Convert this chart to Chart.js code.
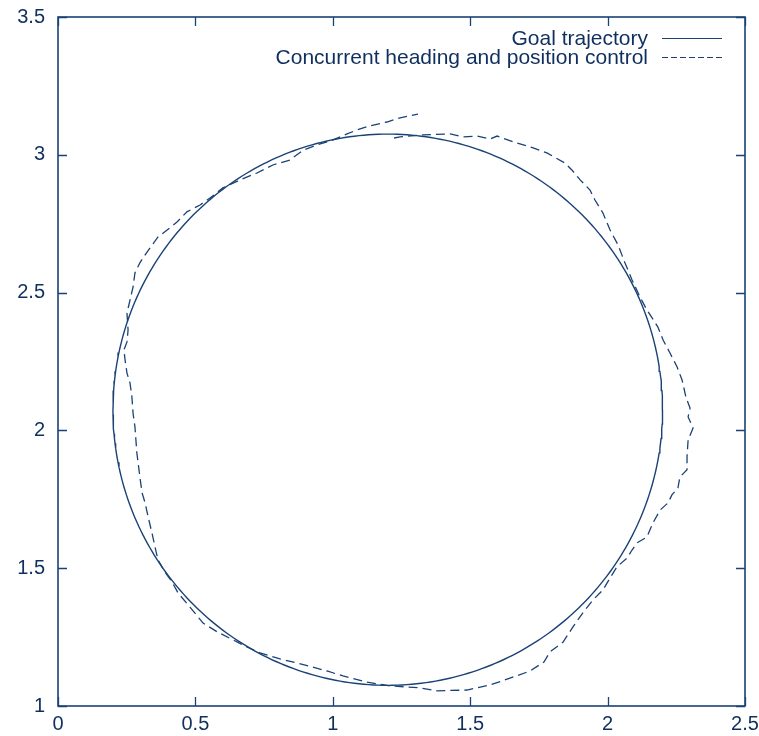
<!DOCTYPE html>
<html>
<head>
<meta charset="utf-8">
<script src="https://cdn.jsdelivr.net/npm/chart.js@4.4.1/dist/chart.umd.min.js"></script>
<style>
  html, body { margin: 0; padding: 0; background: #ffffff; }
  #wrap { width: 759px; height: 736px; }
</style>
</head>
<body>
<div id="wrap"><canvas id="chart" width="759" height="736"></canvas></div>
<script>
// Axis ticks
const xTicks = [0, 0.5, 1, 1.5, 2, 2.5];
const yTicks = [1, 1.5, 2, 2.5, 3, 3.5];

// Goal trajectory: circle of radius 1 m
const goalCenter = [1.2, 2.075];
const goalRadius = 1.0;

// Measured path (x, y) with concurrent heading and position control
const pathX = [1.223, 1.245, 1.328, 1.427, 1.474, 1.525, 1.572, 1.598, 1.656, 1.729,
  1.779, 1.845, 1.870, 1.900, 1.936, 1.954, 1.983, 2.009, 2.038, 2.063,
  2.089, 2.118, 2.143, 2.162, 2.183, 2.202, 2.227, 2.253, 2.271, 2.285,
  2.300, 2.293, 2.311, 2.293, 2.289, 2.289, 2.263, 2.256, 2.234, 2.220,
  2.191, 2.165, 2.143, 2.107, 2.089, 2.071, 2.034, 2.009, 1.983, 1.947,
  1.910, 1.874, 1.838, 1.790, 1.769, 1.718, 1.659, 1.572, 1.488, 1.379,
  1.317, 1.270, 1.208, 1.124, 1.037, 0.979, 0.870, 0.808, 0.735, 0.688,
  0.637, 0.579, 0.528, 0.480, 0.437, 0.415, 0.389, 0.364, 0.353, 0.342,
  0.328, 0.317, 0.306, 0.298, 0.287, 0.280, 0.273, 0.269, 0.262, 0.251,
  0.244, 0.240, 0.251, 0.255, 0.251, 0.262, 0.273, 0.280, 0.298, 0.317,
  0.335, 0.364, 0.397, 0.433, 0.469, 0.517, 0.553, 0.600, 0.662, 0.724,
  0.782, 0.844, 0.892, 0.943, 1.001, 1.052, 1.088, 1.135, 1.197, 1.245,
  1.310];
const pathY = [3.061, 3.065, 3.072, 3.076, 3.065, 3.068, 3.057, 3.068, 3.047, 3.025,
  3.007, 2.970, 2.945, 2.909, 2.872, 2.836, 2.789, 2.727, 2.673, 2.608,
  2.546, 2.484, 2.437, 2.408, 2.375, 2.328, 2.281, 2.230, 2.183, 2.121,
  2.081, 2.049, 2.009, 1.965, 1.904, 1.857, 1.831, 1.791, 1.766, 1.737,
  1.711, 1.664, 1.613, 1.592, 1.566, 1.537, 1.505, 1.465, 1.421, 1.385,
  1.338, 1.287, 1.232, 1.196, 1.160, 1.127, 1.106, 1.076, 1.058, 1.055,
  1.066, 1.069, 1.073, 1.087, 1.109, 1.127, 1.156, 1.171, 1.193, 1.214,
  1.240, 1.269, 1.301, 1.359, 1.410, 1.450, 1.486, 1.530, 1.577, 1.628,
  1.686, 1.737, 1.773, 1.831, 1.918, 2.013, 2.063, 2.121, 2.172, 2.208,
  2.256, 2.292, 2.321, 2.364, 2.426, 2.473, 2.520, 2.571, 2.608, 2.637,
  2.662, 2.702, 2.727, 2.756, 2.793, 2.818, 2.843, 2.880, 2.909, 2.934,
  2.963, 2.981, 3.017, 3.036, 3.054, 3.076, 3.090, 3.105, 3.119, 3.134,
  3.148];

const seriesNames = ['Goal trajectory', 'Concurrent heading and position control'];

const INK = '#1a4275';
const TEXT = '#0f2f5e';
const FONT = '"Liberation Sans", Arial, Helvetica, sans-serif';

const goalPoints = [];
for (let deg = 0; deg <= 360; deg += 1) {
  const a = deg * Math.PI / 180;
  goalPoints.push({ x: goalCenter[0] + goalRadius * Math.cos(a), y: goalCenter[1] + goalRadius * Math.sin(a) });
}
const pathPoints = pathX.map((x, i) => ({ x, y: pathY[i] }));

// Box around the plot area with inward ticks on all four sides
const frameTicks = {
  id: 'frameTicks',
  afterDatasetsDraw(chart) {
    const { ctx, chartArea: a, scales } = chart;
    const len = 9;
    ctx.save();
    ctx.strokeStyle = INK;
    ctx.lineWidth = 1.6;
    ctx.setLineDash([]);
    ctx.strokeRect(a.left, a.top, a.right - a.left, a.bottom - a.top);
    ctx.beginPath();
    xTicks.forEach(v => {
      const px = Math.round(scales.x.getPixelForValue(v)) + 0.5;
      ctx.moveTo(px, a.bottom); ctx.lineTo(px, a.bottom - len);
      ctx.moveTo(px, a.top); ctx.lineTo(px, a.top + len);
    });
    yTicks.forEach(v => {
      const py = Math.round(scales.y.getPixelForValue(v)) + 0.5;
      ctx.moveTo(a.left, py); ctx.lineTo(a.left + len, py);
      ctx.moveTo(a.right, py); ctx.lineTo(a.right - len, py);
    });
    ctx.lineWidth = 1.3;
    ctx.stroke();
    ctx.restore();
  }
};

// Key in the upper right: label followed by a line sample
const keyBox = {
  id: 'keyBox',
  afterDraw(chart) {
    const { ctx } = chart;
    const textRight = 648, lineStart = 662, lineEnd = 722;
    const rows = [
      { y: 38, dash: [] },
      { y: 57, dash: [6, 3] }
    ];
    ctx.save();
    ctx.font = '21px ' + FONT;
    ctx.fillStyle = TEXT;
    ctx.textAlign = 'right';
    ctx.textBaseline = 'middle';
    rows.forEach((r, i) => {
      ctx.fillText(seriesNames[i], textRight, r.y + 1);
      ctx.beginPath();
      ctx.strokeStyle = INK;
      ctx.lineWidth = 1.2;
      ctx.setLineDash(r.dash);
      ctx.moveTo(lineStart, r.y + 0.5);
      ctx.lineTo(lineEnd, r.y + 0.5);
      ctx.stroke();
    });
    ctx.restore();
  }
};

// Label overflow is handled by the fixed layout padding instead
function noOverflow(scale) {
  scale.paddingLeft = 0;
  scale.paddingRight = 0;
  scale.paddingTop = 0;
  scale.paddingBottom = 0;
}

new Chart(document.getElementById('chart'), {
  type: 'scatter',
  data: {
    datasets: [
      {
        label: seriesNames[0],
        data: goalPoints,
        showLine: true,
        borderColor: INK,
        borderWidth: 1.4,
        pointRadius: 0,
        tension: 0,
        fill: false
      },
      {
        label: seriesNames[1],
        data: pathPoints,
        showLine: true,
        borderColor: INK,
        borderWidth: 1.3,
        borderDash: [9, 5],
        pointRadius: 0,
        tension: 0,
        fill: false
      }
    ]
  },
  options: {
    responsive: false,
    animation: false,
    events: [],
    layout: { padding: { top: 17, right: 14, left: 0, bottom: 0 } },
    plugins: {
      legend: { display: false },
      tooltip: { enabled: false },
      title: { display: false }
    },
    scales: {
      x: {
        type: 'linear',
        min: 0,
        max: 2.5,
        afterBuildTicks(scale) { scale.ticks = xTicks.map(v => ({ value: v })); },
        afterFit(scale) { scale.height = 30; noOverflow(scale); },
        grid: { display: false, drawTicks: false },
        border: { display: false },
        ticks: {
          color: TEXT,
          font: { family: FONT, size: 20 },
          padding: 6,
          maxRotation: 0,
          autoSkip: false,
          callback: v => String(v)
        }
      },
      y: {
        type: 'linear',
        min: 1,
        max: 3.5,
        afterBuildTicks(scale) { scale.ticks = yTicks.map(v => ({ value: v })); },
        afterFit(scale) { scale.width = 58; noOverflow(scale); },
        grid: { display: false, drawTicks: false },
        border: { display: false },
        ticks: {
          color: TEXT,
          font: { family: FONT, size: 20 },
          padding: 13,
          autoSkip: false,
          callback: v => String(v)
        }
      }
    }
  },
  plugins: [frameTicks, keyBox]
});
</script>
</body>
</html>
